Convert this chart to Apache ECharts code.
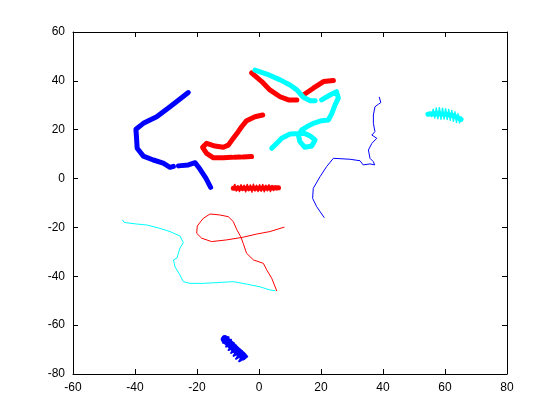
<!DOCTYPE html>
<html><head><meta charset="utf-8">
<script src="https://cdn.jsdelivr.net/npm/echarts@6/dist/echarts.min.js"></script>
<style>html,body{margin:0;padding:0;background:#fff}#c{width:560px;height:420px}</style>
</head><body><div id="c"></div>
<script>
var xTicks = [-60,-40,-20,0,20,40,60,80];
var yTicks = [-80,-60,-40,-20,0,20,40,60];

// null marks a gap in the trace
var blueThick = [[-22.8,35.2],[-28.7,29.4],[-33.0,25.3],[-37.3,22.6],[-39.7,20.2],[-39.5,16.5],[-39.3,12.4],[-37.3,9.2],[-34.1,7.6],[-30.9,6.3],[-28.7,4.6],[-27.6,5.0],null,[-26.0,5.2],[-22.8,5.6],[-20.6,6.5],[-19.0,3.8],[-17.1,0.1],[-15.6,-3.6]];
var redThickLow = [[1.2,26.0],[-1.3,25.3],[-4.0,23.7],[-5.6,21.2],[-6.7,19.2],[-8.3,16.5],[-9.9,13.7],[-11.5,12.8],[-14.2,13.3],[-16.9,14.4],[-18.2,12.8],[-16.9,10.3],[-14.7,8.5],[-11.5,8.5],[-8.9,8.7],null,[-7.9,8.7],[-6.1,8.8],null,[-5.2,8.8],[-2.4,9.0]];
var redThickHigh = [[-2.4,43.3],[0.9,39.7],[3.5,36.3],[6.8,33.5],[9.5,32.2],[12.2,32.2],null,[14.3,34.2],[17.5,37.0],[20.8,39.7],[24.0,40.1]];
var cyanThick = [[-1.3,44.4],[2.5,42.8],[6.8,40.4],[10.0,38.3],[12.2,36.3],[14.3,33.3],[16.5,31.9],[18.1,31.9],null,[20.2,32.2],[22.9,34.2],[25.0,35.6],[25.6,32.9],[24.5,30.1],[23.5,26.7],[22.4,24.0],[20.2,23.7],[17.5,22.6],[15.4,21.2],[13.8,19.9],[12.7,17.8],[13.2,15.1],[14.8,12.8],[17.0,13.3],[18.1,15.8],[16.5,17.4],[14.5,18.6],[10.0,18.2],[7.3,16.5],[5.7,14.4],[4.1,12.4]];
var redFuzzyCore = [[-8.3,-4.0],[-4,-4.0],[0,-4.0],[3,-3.9],[6.3,-3.8]];
var redFuzzy = [[-8.3,-3.8],[-7.8,-2.4],[-7.3,-5.1],[-6.8,-2.9],[-6.3,-5.3],[-5.8,-2.5],[-5.3,-4.9],[-4.8,-2.7],[-4.3,-5.4],[-3.8,-2.4],[-3.3,-5.0],[-2.8,-2.6],[-2.3,-5.5],[-1.8,-2.3],[-1.3,-5.1],[-0.8,-2.7],[-0.3,-5.3],[0.2,-2.5],[0.7,-5.2],[1.2,-2.4],[1.7,-5.4],[2.2,-2.7],[2.7,-5.0],[3.2,-2.5],[3.7,-5.3],[4.2,-2.8],[4.7,-4.9],[5.2,-3.0],[5.7,-4.6],[6.5,-3.9]];
var cyanFuzzyCore = [[54.5,26.3],[57,26.5],[60,26.3],[62.5,25.8],[64,25.0],[65.2,24.2]];
var cyanFuzzy = [[54.5,26.4],[55.2,27.3],[55.7,25.4],[56.2,28.4],[56.7,24.8],[57.2,28.9],[57.7,24.5],[58.2,29.0],[58.7,24.3],[59.2,28.8],[59.7,24.4],[60.2,28.6],[60.7,24.2],[61.2,28.3],[61.7,23.9],[62.2,27.9],[62.7,23.5],[63.2,27.3],[63.7,23.0],[64.2,26.5],[64.7,22.8],[65.2,25.2]];
var blueFuzzyCore = [[-11.0,-65.8],[-9.0,-68.2],[-7.0,-70.6],[-5.2,-72.6]];
var blueFuzzy = [[-11.6,-64.8],[-9.8,-65.0],[-11.6,-67.2],[-9.0,-66.0],[-10.6,-68.8],[-8.2,-67.2],[-9.8,-70.2],[-7.4,-68.4],[-9.0,-71.4],[-6.6,-69.6],[-8.2,-72.6],[-5.6,-70.6],[-7.4,-73.8],[-4.8,-71.6],[-6.4,-74.8],[-3.8,-72.8],[-5.0,-74.0]];
var blueThin = [[38.8,33.3],[39.3,31.1],[38.6,30.5],[37.4,29.4],[36.9,26.0],[36.9,22.6],[37.4,19.2],[36.4,17.8],[38.0,16.5],[36.4,14.4],[35.3,11.7],[35.8,8.3],[36.9,6.9],[37.3,5.6],[35.8,6.0],[33.6,5.6],[32.6,7.3],[29.4,7.9],[24.0,8.3],[21.8,4.9],[19.7,0.8],[17.5,-4.0],[17.3,-8.1],[18.6,-11.5],[21.0,-15.9]];
var cyanThin = [[-44.0,-17.0],[-43.5,-17.9],[-42.7,-18.1],[-39.5,-18.6],[-36.2,-19.0],[-31.9,-20.4],[-28.7,-21.7],[-25.5,-23.5],[-24.4,-26.2],[-25.5,-28.5],[-26.5,-32.6],[-27.6,-33.3],[-27.1,-36.1],[-25.5,-39.5],[-24.4,-42.2],[-22.3,-42.9],[-18.0,-42.9],[-13.6,-42.6],[-8.3,-42.2],[-4.0,-43.2],[0.3,-44.3],[3.5,-45.6],[5.2,-45.9]];
var redThin = [[8.1,-19.9],[3.5,-21.7],[-0.7,-22.7],[-5.1,-24.0],[-10.4,-25.1],[-15.3,-25.8],[-18.5,-24.4],[-20.1,-22.4],[-19.9,-19.4],[-18.0,-16.3],[-15.8,-14.5],[-12.6,-14.9],[-9.9,-15.6],[-8.3,-17.6],[-7.2,-20.8],[-5.9,-23.8],[-5.1,-26.5],[-4.0,-30.6],[-1.8,-33.3],[1.4,-34.7],[2.5,-37.4],[4.1,-40.8],[5.7,-45.9]];

var chart = echarts.init(document.getElementById('c'));
var series = [];
function ln(data, color, w) {
  var seg = [];
  function flush() {
    if (seg.length) {
      series.push({type:'line', data:seg, showSymbol:false, symbol:'none', silent:true, animation:false,
        lineStyle:{color:color, width:w, join:'round', cap:'round'}});
    }
    seg = [];
  }
  data.forEach(function(p){ if (p === null) flush(); else seg.push(p); });
  flush();
}
ln(blueThick,'#0000ff',5);
ln(redThickLow,'#ff0000',5);
ln(redThickHigh,'#ff0000',5);
ln(cyanThick,'#00ffff',5);
ln(redFuzzyCore,'#ff0000',5);
ln(redFuzzy,'#ff0000',1.5);
ln(cyanFuzzyCore,'#00ffff',5);
ln(cyanFuzzy,'#00ffff',1.5);
ln(blueFuzzyCore,'#0000ff',8);
ln(blueFuzzy,'#0000ff',2);
ln(blueThin,'#0000ff',1);
ln(cyanThin,'#00ffff',1);
ln(redThin,'#ff0000',1);

var font = {color:'#000', fontFamily:'Liberation Sans, Arial, sans-serif', fontSize:12};
function axisCommon(extra) {
  return Object.assign({
    type:'value', splitLine:{show:false},
    axisLine:{show:true, onZero:false, lineStyle:{color:'#000'}},
    axisTick:{show:true, inside:true, length:5, lineStyle:{color:'#000'}}
  }, extra);
}
chart.setOption({
  animation:false,
  grid:{left:73, right:53, top:32, bottom:46, containLabel:false},
  xAxis:[
    axisCommon({min:xTicks[0], max:xTicks[xTicks.length-1], interval:20, position:'bottom', axisLabel:Object.assign({margin:8}, font)}),
    axisCommon({min:xTicks[0], max:xTicks[xTicks.length-1], interval:20, position:'top', axisLabel:{show:false}})
  ],
  yAxis:[
    axisCommon({min:yTicks[0], max:yTicks[yTicks.length-1], interval:20, position:'left', axisLabel:Object.assign({margin:8}, font)}),
    axisCommon({min:yTicks[0], max:yTicks[yTicks.length-1], interval:20, position:'right', axisLabel:{show:false}})
  ],
  series:series
});
</script></body></html>
